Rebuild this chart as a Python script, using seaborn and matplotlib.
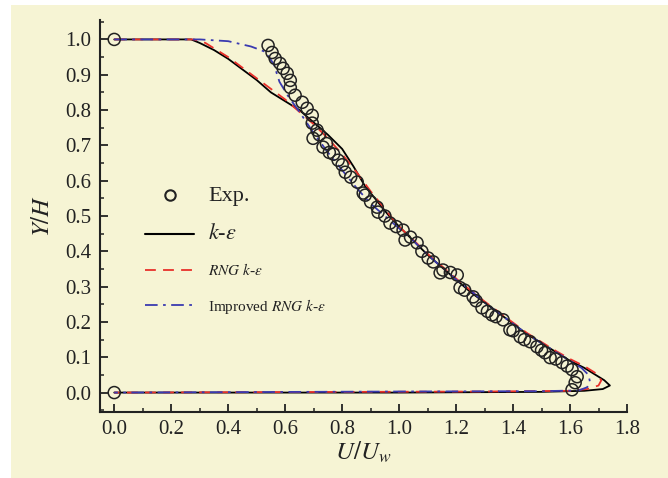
import matplotlib
matplotlib.use("Agg")
import matplotlib.pyplot as plt
import seaborn as sns
import numpy as np
import pandas as pd
from matplotlib.patches import Rectangle
from matplotlib.ticker import MultipleLocator
from matplotlib.lines import Line2D

# ---- data ----
exp_u = [0.0, 0.0, 0.540, 0.554, 0.565, 0.582, 0.593, 0.607, 0.618, 0.618, 0.635, 0.660,
         0.677, 0.695, 0.695, 0.712, 0.698, 0.720, 0.733, 0.745, 0.755, 0.770, 0.786,
         0.800, 0.811, 0.830, 0.853, 0.874, 0.881, 0.900, 0.923, 0.926, 0.950, 0.968,
         0.990, 1.014, 1.021, 1.040, 1.063, 1.080, 1.102, 1.120, 1.144, 1.154, 1.180,
         1.204, 1.214, 1.230, 1.260, 1.270, 1.291, 1.310, 1.326, 1.340, 1.365, 1.389,
         1.400, 1.425, 1.440, 1.460, 1.484, 1.500, 1.512, 1.530, 1.550, 1.572, 1.590,
         1.607, 1.625, 1.618, 1.607]
exp_y = [1.0, 0.0, 0.983, 0.963, 0.946, 0.932, 0.918, 0.904, 0.884, 0.864, 0.842, 0.822,
         0.805, 0.785, 0.763, 0.743, 0.720, 0.730, 0.695, 0.705, 0.680, 0.675, 0.658,
         0.645, 0.624, 0.610, 0.596, 0.565, 0.559, 0.540, 0.525, 0.511, 0.500, 0.480,
         0.470, 0.460, 0.432, 0.440, 0.424, 0.400, 0.381, 0.370, 0.339, 0.347, 0.340,
         0.333, 0.297, 0.290, 0.271, 0.260, 0.240, 0.230, 0.220, 0.215, 0.206, 0.178,
         0.175, 0.158, 0.150, 0.144, 0.130, 0.120, 0.113, 0.099, 0.095, 0.085, 0.075,
         0.065, 0.045, 0.028, 0.008]

ke_u = [0.0, 0.1, 0.2, 0.27, 0.30, 0.35, 0.40, 0.45, 0.50, 0.55, 0.60, 0.65, 0.70, 0.75,
        0.80, 0.84, 0.88, 0.92, 0.96, 1.00, 1.05, 1.10, 1.15, 1.20, 1.25, 1.30, 1.35,
        1.40, 1.45, 1.50, 1.55, 1.60, 1.65, 1.69, 1.72, 1.74, 1.715, 1.65, 1.50, 1.00,
        0.50, 0.0]
ke_y = [1.0, 1.0, 1.0, 1.0, 0.99, 0.97, 0.945, 0.915, 0.885, 0.85, 0.825, 0.80, 0.765,
        0.73, 0.69, 0.64, 0.585, 0.545, 0.505, 0.47, 0.43, 0.39, 0.355, 0.32, 0.285,
        0.255, 0.225, 0.195, 0.165, 0.14, 0.115, 0.09, 0.07, 0.05, 0.035, 0.02, 0.01,
        0.005, 0.002, 0.0, 0.0, 0.0]

rng_u = [0.0, 0.28, 0.32, 0.36, 0.40, 0.45, 0.50, 0.55, 0.60, 0.65, 0.70, 0.75, 0.80,
         0.85, 0.90, 0.95, 1.00, 1.05, 1.10, 1.15, 1.20, 1.25, 1.30, 1.35, 1.40, 1.45,
         1.50, 1.55, 1.60, 1.65, 1.69, 1.71, 1.70, 1.66, 1.60, 1.30, 0.0]
rng_y = [1.0, 1.0, 0.99, 0.97, 0.95, 0.92, 0.89, 0.86, 0.83, 0.795, 0.76, 0.72, 0.675,
         0.625, 0.57, 0.52, 0.47, 0.432, 0.393, 0.358, 0.323, 0.29, 0.258, 0.228, 0.198,
         0.168, 0.143, 0.118, 0.095, 0.075, 0.055, 0.035, 0.02, 0.01, 0.005, 0.003, 0.0]

imp_u = [0.0, 0.30, 0.40, 0.48, 0.53, 0.56, 0.58, 0.61, 0.65, 0.70, 0.75, 0.80, 0.85,
         0.90, 0.95, 1.00, 1.05, 1.10, 1.15, 1.20, 1.25, 1.30, 1.35, 1.40, 1.45, 1.50,
         1.55, 1.60, 1.64, 1.665, 1.67, 1.66, 1.63, 1.50, 1.00, 0.0]
imp_y = [1.0, 1.0, 0.995, 0.98, 0.965, 0.93, 0.88, 0.84, 0.795, 0.735, 0.68, 0.63, 0.58,
         0.535, 0.50, 0.465, 0.43, 0.39, 0.355, 0.32, 0.29, 0.255, 0.225, 0.195, 0.165,
         0.14, 0.115, 0.09, 0.07, 0.05, 0.03, 0.015, 0.006, 0.004, 0.003, 0.0]

xticks = [0.0, 0.2, 0.4, 0.6, 0.8, 1.0, 1.2, 1.4, 1.6, 1.8]
yticks = [0.0, 0.1, 0.2, 0.3, 0.4, 0.5, 0.6, 0.7, 0.8, 0.9, 1.0]

# ---- style ----
sns.set_theme(style="ticks")
BG = "#F6F4D4"
plt.rcParams["font.family"] = ["Liberation Serif", "DejaVu Serif"]
plt.rcParams["mathtext.fontset"] = "stix"

fig = plt.figure(figsize=(6.68, 4.78), dpi=100, facecolor="white")
fig.patches.append(Rectangle((11 / 668, 0), 1 - 11 / 668, 1 - 5 / 478,
                             transform=fig.transFigure, facecolor=BG,
                             edgecolor="none", zorder=-10))
ax = fig.add_axes([100 / 668, 66 / 478, 527 / 668, 392 / 478])
ax.set_facecolor(BG)

sns.lineplot(x=ke_u, y=ke_y, sort=False, estimator=None, ax=ax, color="black",
             lw=1.3, zorder=3)
sns.lineplot(x=rng_u, y=rng_y, sort=False, estimator=None, ax=ax, color="#E8302A",
             lw=1.3, zorder=3, linestyle=(0, (6, 4)))
sns.lineplot(x=imp_u, y=imp_y, sort=False, estimator=None, ax=ax, color="#3A3AB0",
             lw=1.3, zorder=3, linestyle=(0, (7, 3, 1.5, 3)))
sns.scatterplot(x=exp_u, y=exp_y, ax=ax, marker="o", s=75, facecolor="none",
                edgecolor="#222222", linewidth=1.1, zorder=4)

ax.set_xlim(-0.05, 1.8)
ax.set_ylim(-0.055, 1.055)
ax.set_xticks(xticks)
ax.set_yticks(yticks)
ax.set_xticklabels([f"{v:.1f}" for v in xticks])
ax.set_yticklabels([f"{v:.1f}" for v in yticks])
ax.xaxis.set_minor_locator(MultipleLocator(0.1))
ax.yaxis.set_minor_locator(MultipleLocator(0.05))
ax.tick_params(which="major", direction="in", length=6, width=1.3, labelsize=15,
               colors="#222222", pad=6)
ax.tick_params(which="minor", direction="in", length=3, width=1.1, colors="#222222")
sns.despine(ax=ax)
for s in ("left", "bottom"):
    ax.spines[s].set_linewidth(1.5)
    ax.spines[s].set_color("#222222")

ax.set_xlabel("$U/U_w$", fontsize=18, labelpad=0, color="#222222")
ax.set_ylabel("$Y/H$", fontsize=18, labelpad=8, color="#222222")

handles = [
    Line2D([], [], marker="o", ls="none", mfc="none", mec="#222222", ms=7.5, mew=1.5),
    Line2D([], [], color="black", lw=1.5),
    Line2D([], [], color="#E8302A", lw=1.3, ls=(0, (6, 4))),
    Line2D([], [], color="#3A3AB0", lw=1.3, ls=(0, (7, 3, 1.5, 3))),
]
labels = ["Exp.", "$k$-$\\varepsilon$", "$RNG\\ k$-$\\varepsilon$",
          "Improved $RNG\\ k$-$\\varepsilon$"]
leg = ax.legend(handles, labels, loc="upper left", bbox_to_anchor=(0.06, 0.61),
                frameon=False, fontsize=11, handlelength=3.2, labelspacing=1.2,
                handletextpad=0.9)
for t, fs in zip(leg.get_texts(), [16, 16, 11, 11]):
    t.set_fontsize(fs)
    t.set_color("#222222")

fig.savefig("out.png", dpi=100, facecolor="white")
